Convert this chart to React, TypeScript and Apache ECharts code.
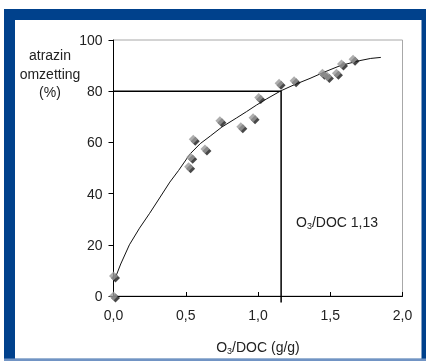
import React, { useEffect, useRef } from "react";
import * as echarts from "echarts";

const xTicks = ["0,0", "0,5", "1,0", "1,5", "2,0"];
const measuredX = [0, 0, 0.52, 0.534, 0.552, 0.633, 0.736, 0.881, 0.966, 1.005, 1.146, 1.25, 1.446, 1.48, 1.543, 1.578, 1.658];
const measuredY = [0, 7.8, 50.5, 54.2, 61.2, 57.4, 68.5, 66.1, 69.6, 77.5, 83.1, 84.1, 87.0, 85.7, 87.0, 90.6, 92.5];
const curveX = [0.005, 0.05, 0.11, 0.18, 0.25, 0.31, 0.39, 0.45, 0.53, 0.6, 0.67, 0.75, 0.85, 0.92, 0.99, 1.06, 1.16, 1.25, 1.36, 1.46, 1.57, 1.7, 1.78, 1.85];
const curveY = [6, 12.5, 20, 26.5, 32.3, 37.5, 44.5, 49, 55.5, 59.5, 62.5, 66, 69.5, 72, 74.6, 77, 80.2, 82.5, 85, 87.5, 90, 91.9, 92.8, 93.2];
const refX = 1.16;
const refY = 80;
const refYBottom = -2.5;

export default function App() {
  const ref = useRef<HTMLDivElement>(null);
  useEffect(() => {
    const chart = echarts.init(ref.current!, null, { renderer: "svg" });
    const font = "Liberation Sans, Arial, sans-serif";
    const pts = measuredX.map((x, i) => [x, measuredY[i]]);
    const curve = curveX.map((x, i) => [x, curveY[i]]);
    const rich = {
      n: { fontSize: 14, fontFamily: font, lineHeight: 16, color: "#222" },
      s: { fontSize: 9, fontFamily: font, verticalAlign: "bottom", lineHeight: 9, color: "#222" },
    };
    chart.setOption({
      animation: false,
      textStyle: { fontFamily: font },
      graphic: [
        { type: "rect", shape: { x: 4, y: 9, width: 422, height: 352 }, style: { fill: "#00418C" }, z: -10 },
        { type: "rect", shape: { x: 4, y: 358.5, width: 422, height: 3 }, style: { fill: "#7194C4" }, z: -9 },
        { type: "rect", shape: { x: 15, y: 20, width: 406.5, height: 338.5 }, style: { fill: "#ffffff" }, z: -8 },
        {
          type: "text",
          x: 50,
          y: 46,
          style: {
            text: "atrazin\nomzetting\n(%)",
            font: "14px " + font,
            fill: "#222",
            align: "center",
            verticalAlign: "top",
            lineHeight: 18.5,
          },
        },
        {
          type: "text",
          x: 296,
          y: 214,
          style: {
            text: "{n|O}{s|3}{n|/DOC 1,13}",
            fill: "#222",
            rich,
          },
        },
      ],
      grid: {
        left: 113.5,
        right: 23.5,
        top: 40,
        bottom: 65,
        show: true,
        borderColor: "#a8a8a8",
        borderWidth: 1,
        backgroundColor: "transparent",
      },
      xAxis: {
        type: "value",
        min: 0,
        max: 2,
        interval: 0.5,
        name: "{n|O}{s|3}{n|/DOC (g/g)}",
        nameLocation: "middle",
        nameGap: 43,
        nameTextStyle: { color: "#222", rich },
        axisLine: { show: true, onZero: false, lineStyle: { color: "#000", width: 1 } },
        axisTick: { show: true, inside: true, length: 4, lineStyle: { color: "#000" } },
        splitLine: { show: false },
        axisLabel: {
          fontSize: 14,
          color: "#222",
          margin: 12,
          fontFamily: font,
          formatter: (v: number) => xTicks[Math.round(v / 0.5)] ?? "",
        },
      },
      yAxis: {
        type: "value",
        min: 0,
        max: 100,
        interval: 20,
        axisLine: { show: true, onZero: false, lineStyle: { color: "#000", width: 1 } },
        axisTick: { show: true, inside: false, length: 5, lineStyle: { color: "#000" } },
        splitLine: { show: false },
        axisLabel: { fontSize: 14, color: "#222", margin: 11, fontFamily: font },
      },
      series: [
        {
          type: "line",
          data: [[0, refY], [refX, refY], [refX, refYBottom]],
          clip: false,
          symbol: "none",
          lineStyle: { color: "#000", width: 1.5 },
          z: 2,
        },
        {
          type: "line",
          data: curve,
          symbol: "none",
          smooth: false,
          lineStyle: { color: "#111", width: 1 },
          z: 3,
        },
        {
          type: "scatter",
          data: pts,
          symbol: "diamond",
          symbolSize: 9,
          symbolOffset: [2, 2],
          itemStyle: { color: "#1a1a1a" },
          z: 4,
        },
        {
          type: "scatter",
          data: pts,
          symbol: "diamond",
          symbolSize: 9,
          itemStyle: { color: "#9a9a9a" },
          z: 5,
        },
      ],
    });
    return () => chart.dispose();
  }, []);
  return <div ref={ref} style={{ position: "fixed", left: 0, top: 0, width: 426, height: 361 }} />;
}
